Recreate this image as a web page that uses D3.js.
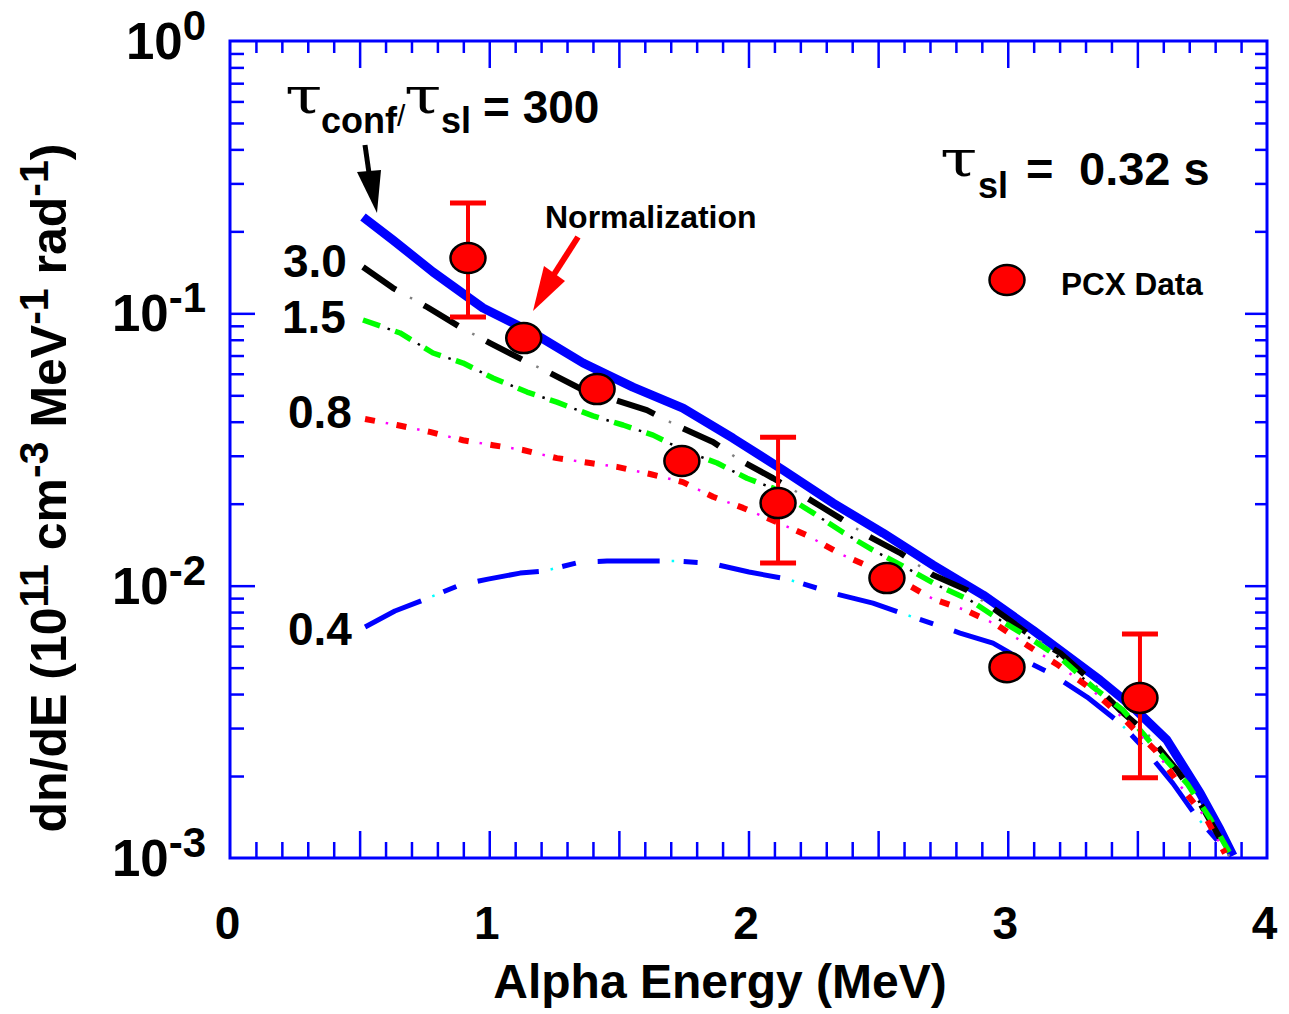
<!DOCTYPE html>
<html>
<head>
<meta charset="utf-8">
<script src="https://cdn.jsdelivr.net/npm/d3@7"></script>
<style>
  html, body { margin: 0; padding: 0; background: #fff; }
  svg { display: block; }
  text { font-family: "Liberation Sans", Arial, Helvetica, sans-serif; font-weight: bold; fill: #000; }
</style>
</head>
<body>
<svg id="chart" width="1289" height="1014"></svg>
<script>
// ---------------- DATA ----------------
const xTickLabels = [0, 1, 2, 3, 4];
const yDecades = [1, 0.1, 0.01, 0.001];
const yExponents = ["0", "-1", "-2", "-3"];

// tau_conf / tau_sl = 300 (solid thick blue)
const energy300 = [0.513, 0.629, 0.783, 0.976, 1.169, 1.362, 1.554, 1.747, 1.940, 2.133, 2.326, 2.519, 2.712, 2.905, 3.097, 3.356, 3.483, 3.614, 3.742, 3.819, 3.869];
const dn300     = [0.2258, 0.1858, 0.1418, 0.1046, 0.0847, 0.0657, 0.0536, 0.0449, 0.0348, 0.0266, 0.0201, 0.0156, 0.0119, 0.00924, 0.00687, 0.0045, 0.00358, 0.00271, 0.00173, 0.00127, 0.00102];

// tau ratio 3.0 (black dashed)
const energy30 = [0.513, 0.629, 0.760, 0.887, 1.003, 1.130, 1.234, 1.362, 1.608, 1.736, 1.863, 1.967, 2.095, 2.226, 2.353, 2.457, 2.584, 2.712, 2.843, 2.943, 3.097, 3.202, 3.306, 3.433, 3.537, 3.653, 3.742, 3.830, 3.857];
const dn30     = [0.1479, 0.1238, 0.1055, 0.0891, 0.0778, 0.0674, 0.0604, 0.0523, 0.0441, 0.0382, 0.0337, 0.0289, 0.0248, 0.0210, 0.0177, 0.0153, 0.0132, 0.01094, 0.00963, 0.00827, 0.00647, 0.00566, 0.00462, 0.00349, 0.00287, 0.00210, 0.00159, 0.00113, 0.00100];

// tau ratio 1.5 (green dashed)
const energy15 = [0.513, 0.656, 0.783, 0.899, 1.014, 1.146, 1.261, 1.400, 1.516, 1.632, 1.747, 1.879, 1.994, 2.095, 2.249, 2.364, 2.480, 2.611, 2.727, 2.854, 2.970, 3.097, 3.213, 3.329, 3.445, 3.576, 3.691, 3.780, 3.857];
const dn15     = [0.0945, 0.0847, 0.0715, 0.0657, 0.0579, 0.0514, 0.0472, 0.0420, 0.0389, 0.0357, 0.0315, 0.0282, 0.0248, 0.0228, 0.0185, 0.0157, 0.0135, 0.0116, 0.01005, 0.00885, 0.00748, 0.00631, 0.00533, 0.00424, 0.00349, 0.00249, 0.00188, 0.00140, 0.00104];

// tau ratio 0.8 (red dashed)
const energy08 = [0.521, 0.644, 0.771, 0.899, 1.014, 1.130, 1.261, 1.389, 1.493, 1.620, 1.747, 1.863, 1.979, 2.110, 2.226, 2.353, 2.469, 2.596, 2.712, 2.835, 2.959, 3.074, 3.194, 3.317, 3.441, 3.568, 3.664, 3.769, 3.838];
const dn08     = [0.0409, 0.0389, 0.0367, 0.0342, 0.0328, 0.0315, 0.0294, 0.0282, 0.0273, 0.0257, 0.0240, 0.0212, 0.0193, 0.0171, 0.0153, 0.0131, 0.0117, 0.0103, 0.00893, 0.00814, 0.00717, 0.00605, 0.00511, 0.00421, 0.00329, 0.00249, 0.00185, 0.00138, 0.00104];

// tau ratio 0.4 (blue dash-dot)
const energy04 = [0.521, 0.636, 0.744, 0.887, 0.995, 1.119, 1.211, 1.350, 1.454, 1.716, 1.852, 2.002, 2.149, 2.341, 2.480, 2.634, 2.816, 2.943, 3.036, 3.163, 3.306, 3.433, 3.522, 3.637, 3.730, 3.819, 3.850];
const dn04     = [0.00705, 0.00807, 0.00885, 0.01005, 0.01057, 0.01112, 0.01131, 0.01221, 0.01231, 0.01231, 0.01210, 0.01122, 0.01057, 0.00931, 0.00863, 0.00767, 0.00670, 0.00615, 0.00547, 0.00478, 0.00390, 0.00313, 0.00255, 0.00188, 0.00141, 0.00113, 0.00100];

// PCX data points
const pcxEnergy = [0.918, 1.133, 1.416, 1.743, 2.114, 2.534, 2.997, 3.510];
const pcxValue  = [0.1596, 0.0811, 0.0527, 0.0287, 0.0201, 0.01066, 0.00502, 0.00387];
// error bars (only on some points)
const errEnergy = [0.918, 2.114, 3.510];
const errLow    = [0.0969, 0.0121, 0.00197];
const errHigh   = [0.254, 0.0351, 0.00664];

// curve labels
const curveLabels = ["3.0", "1.5", "0.8", "0.4"];

// ---------------- LAYOUT ----------------
const svg = d3.select("#chart");
const L = 230, R = 1267, T = 41, B = 858;
const x = d3.scaleLinear().domain([0, 4]).range([L, R]);
const y = d3.scaleLog().domain([1e-3, 1]).range([B, T]);
const BLUE = "#0000ff";

svg.append("defs").append("clipPath").attr("id", "plotclip")
  .append("rect").attr("x", L).attr("y", T).attr("width", R - L).attr("height", B - T + 1);

// ---------------- AXES / TICKS ----------------
const minorX = d3.range(1, 40).map(i => i / 10).filter(v => Math.abs(v * 2 - Math.round(v * 2)) > 1e-6);
const majorX = [0.5, 1, 1.5, 2, 2.5, 3, 3.5];
const minorY = [];
[1e-3, 1e-2, 1e-1].forEach(d => { for (let k = 2; k <= 9; k++) minorY.push(d * k); });
const majorY = [0.1, 0.01];

function styleAxis(g) {
  g.select(".domain").remove();
  g.selectAll(".tick line").attr("stroke", BLUE).attr("stroke-width", 2.5);
  g.selectAll(".tick text").remove();
}
svg.append("g").attr("transform", `translate(0,${B})`)
  .call(d3.axisBottom(x).tickValues(minorX).tickSize(-16)).call(styleAxis);
svg.append("g").attr("transform", `translate(0,${B})`)
  .call(d3.axisBottom(x).tickValues(majorX).tickSize(-27)).call(styleAxis);
svg.append("g").attr("transform", `translate(0,${T})`)
  .call(d3.axisTop(x).tickValues(minorX).tickSize(-12)).call(styleAxis);
svg.append("g").attr("transform", `translate(0,${T})`)
  .call(d3.axisTop(x).tickValues(majorX).tickSize(-27)).call(styleAxis);
svg.append("g").attr("transform", `translate(${L},0)`)
  .call(d3.axisLeft(y).tickValues(minorY).tickSize(-14)).call(styleAxis);
svg.append("g").attr("transform", `translate(${L},0)`)
  .call(d3.axisLeft(y).tickValues(majorY).tickSize(-25)).call(styleAxis);
svg.append("g").attr("transform", `translate(${R},0)`)
  .call(d3.axisRight(y).tickValues(minorY).tickSize(-12)).call(styleAxis);
svg.append("g").attr("transform", `translate(${R},0)`)
  .call(d3.axisRight(y).tickValues(majorY).tickSize(-22)).call(styleAxis);

svg.append("rect").attr("x", L).attr("y", T).attr("width", R - L).attr("height", B - T)
  .attr("fill", "none").attr("stroke", BLUE).attr("stroke-width", 3);

// x tick labels
const xLab = svg.append("g").attr("transform", `translate(-3,${B})`)
  .call(d3.axisBottom(x).tickValues(xTickLabels).tickSize(0).tickPadding(48).tickFormat(d3.format("d")));
xLab.select(".domain").remove();
xLab.selectAll("text").attr("font-size", 46).attr("font-family", "Liberation Sans, Arial, sans-serif")
  .attr("font-weight", "bold").attr("fill", "#000");

// y tick labels 10^n
const yl = svg.append("g").selectAll("text").data(yDecades).join("text")
  .attr("x", 206).attr("y", d => y(d) + 18).attr("text-anchor", "end");
yl.append("tspan").attr("font-size", 51).text("10");
yl.append("tspan").attr("font-size", 42).attr("dy", -19).text((d, i) => yExponents[i]);

// axis titles
svg.append("text").attr("x", 720).attr("y", 998).attr("text-anchor", "middle")
  .attr("font-size", 48).text("Alpha Energy (MeV)");

const yt = svg.append("text").attr("transform", "translate(66,488) rotate(-90)")
  .attr("text-anchor", "middle").attr("font-size", 50);
yt.append("tspan").text("dn/dE (10");
yt.append("tspan").attr("font-size", 41).attr("dy", -18).text("11");
yt.append("tspan").attr("dy", 18).text(" cm");
yt.append("tspan").attr("font-size", 41).attr("dy", -18).text("-3");
yt.append("tspan").attr("dy", 18).text(" MeV");
yt.append("tspan").attr("font-size", 41).attr("dy", -18).text("-1");
yt.append("tspan").attr("dy", 18).text(" rad");
yt.append("tspan").attr("font-size", 41).attr("dy", -18).text("-1");
yt.append("tspan").attr("dy", 18).text(")");

// ---------------- CURVES ----------------
const plot = svg.append("g").attr("clip-path", "url(#plotclip)");
const line = d3.line().x(d => x(d[0])).y(d => y(d[1])).curve(d3.curveLinear);
const zip = (a, b) => a.map((v, i) => [v, b[i]]);

const series = [
  { xs: energy300, ys: dn300, color: BLUE, w: 9, dash: null },
  { xs: energy04, ys: dn04, color: BLUE, w: 5, dash: [62, 24, 14, 22], dot: "#00ffff" },
  { xs: energy30, ys: dn30, color: "#000", w: 6, dash: [40, 32], dot: "#808080" },
  { xs: energy15, ys: dn15, color: "#00ff00", w: 5.5, dash: [18, 16], dot: "#000" },
  { xs: energy08, ys: dn08, color: "#ff0000", w: 6, dash: [10, 22], dot: "#ff00ff" }
];
series.forEach(s => {
  const p = plot.append("path").datum(zip(s.xs, s.ys)).attr("d", line)
    .attr("fill", "none").attr("stroke", s.color).attr("stroke-width", s.w)
    .attr("stroke-linejoin", "round");
  if (s.dash) {
    p.attr("stroke-dasharray", s.dash.join(","));
    const period = d3.sum(s.dash);
    plot.append("path").datum(zip(s.xs, s.ys)).attr("d", line)
      .attr("fill", "none").attr("stroke", s.dot).attr("stroke-width", 2.5)
      .attr("stroke-dasharray", `2.5,${period - 2.5}`)
      .attr("stroke-dashoffset", -(s.dash[0] + s.dash[1] / 2));
  }
});

// ---------------- DATA POINTS ----------------
const errG = svg.append("g").attr("stroke", "#ff0000");
errEnergy.forEach((e, i) => {
  errG.append("line").attr("x1", x(e)).attr("x2", x(e)).attr("y1", y(errHigh[i])).attr("y2", y(errLow[i]))
    .attr("stroke-width", 4);
  [errHigh[i], errLow[i]].forEach(v => {
    errG.append("line").attr("x1", x(e) - 18).attr("x2", x(e) + 18).attr("y1", y(v)).attr("y2", y(v))
      .attr("stroke-width", 5);
  });
});
svg.append("g").selectAll("ellipse").data(zip(pcxEnergy, pcxValue)).join("ellipse")
  .attr("cx", d => x(d[0])).attr("cy", d => y(d[1])).attr("rx", 17.5).attr("ry", 15)
  .attr("fill", "#ff0000").attr("stroke", "#000").attr("stroke-width", 2.5);

// legend
svg.append("ellipse").attr("cx", 1007).attr("cy", 280).attr("rx", 17.5).attr("ry", 15)
  .attr("fill", "#ff0000").attr("stroke", "#000").attr("stroke-width", 2.5);
svg.append("text").attr("x", 1061).attr("y", 295).attr("font-size", 31.5).text("PCX Data");

// ---------------- ANNOTATIONS ----------------
const TAUF = "'DejaVu Serif', 'Liberation Serif', serif";
function tau(px, py) {
  svg.append("text").attr("transform", `translate(${px},${py}) scale(1.35,1)`)
    .style("font-family", TAUF).style("font-weight", "normal").attr("font-size", 50).text("\u03c4");
}
tau(285, 113);
svg.append("text").attr("x", 321).attr("y", 133).attr("font-size", 36).text("conf");
svg.append("text").attr("x", 397).attr("y", 126).attr("font-size", 30).style("font-weight", "normal").text("/");
tau(404, 113);
svg.append("text").attr("x", 441).attr("y", 133).attr("font-size", 36).text("sl");
svg.append("text").attr("x", 483).attr("y", 123).attr("font-size", 46).text("= 300");

tau(940, 176);
svg.append("text").attr("x", 978).attr("y", 198).attr("font-size", 36).text("sl");
svg.append("text").attr("x", 1026).attr("y", 185).attr("font-size", 47).text("=");
svg.append("text").attr("x", 1079).attr("y", 185).attr("font-size", 47).text("0.32 s");

svg.append("text").attr("x", 545).attr("y", 228).attr("font-size", 32).text("Normalization");

// curve labels
const labelY = [277, 333, 428, 645];
const labelX = [283, 282, 288, 288];
curveLabels.forEach((t, i) => {
  svg.append("text").attr("x", labelX[i]).attr("y", labelY[i]).attr("font-size", 46).text(t);
});

// black arrow
svg.append("line").attr("x1", 365).attr("y1", 145).attr("x2", 370).attr("y2", 180)
  .attr("stroke", "#000").attr("stroke-width", 5);
svg.append("path").attr("d", "M357,172 L381,170 L377,213 Z").attr("fill", "#000");

// red arrow
svg.append("line").attr("x1", 578).attr("y1", 237).attr("x2", 553).attr("y2", 276)
  .attr("stroke", "#ff0000").attr("stroke-width", 6);
svg.append("path").attr("d", "M544,266 L565,281 L533,311 Z").attr("fill", "#ff0000");
</script>
</body>
</html>
